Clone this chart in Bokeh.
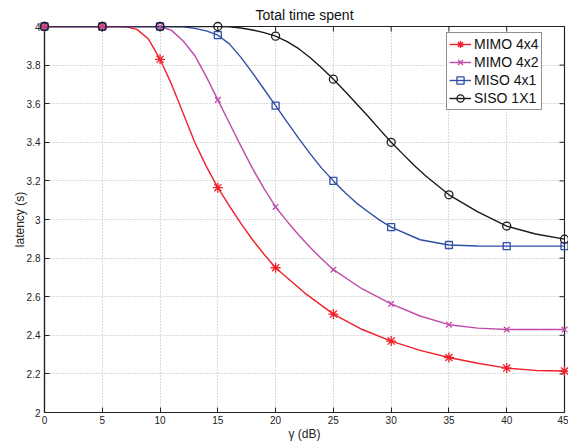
from bokeh.plotting import figure
from bokeh.models import FixedTicker, Range1d, Legend, LegendItem
from bokeh.embed import file_html
from bokeh.resources import INLINE

# ---- data ----
xticks = [0, 5, 10, 15, 20, 25, 30, 35, 40, 45]
yticks = [2.0, 2.2, 2.4, 2.6, 2.8, 3.0, 3.2, 3.4, 3.6, 3.8, 4.0]
ytick_labels = ["2", "2.2", "2.4", "2.6", "2.8", "3", "3.2", "3.4", "3.6", "3.8", "4"]
marker_x = [0, 5, 10, 15, 20, 25, 30, 35, 40, 45]

labels = ["MIMO 4x4", "MIMO 4x2", "MISO 4x1", "SISO 1X1"]

red_x = [0, 5, 6, 7, 8, 9, 10, 11, 12, 13, 14, 15, 16, 17, 18, 19, 20, 22.5, 25, 27.5, 30, 32.5, 35, 37.5, 40, 42.5, 45]
red_y = [4.0, 4.0, 4.0, 3.999, 3.985, 3.935, 3.83, 3.70, 3.55, 3.40, 3.275, 3.165, 3.07, 2.98, 2.895, 2.82, 2.75, 2.62, 2.51, 2.43, 2.37, 2.322, 2.285, 2.255, 2.23, 2.218, 2.215]

mag_x = [0, 5, 10, 11, 12, 13, 14, 15, 16, 17, 18, 19, 20, 21, 22, 23, 24, 25, 27.5, 30, 32.5, 35, 37.5, 40, 42.5, 45]
mag_y = [4.0, 4.0, 4.0, 3.98, 3.925, 3.85, 3.74, 3.62, 3.50, 3.38, 3.265, 3.16, 3.065, 2.99, 2.92, 2.855, 2.795, 2.74, 2.64, 2.563, 2.50, 2.455, 2.437, 2.43, 2.43, 2.43]

blue_x = [0, 5, 10, 12, 13, 14, 15, 16, 17, 18, 19, 20, 21, 22, 23, 24, 25, 26, 27, 28, 29, 30, 32.5, 35, 37.5, 40, 42.5, 45]
blue_y = [4.0, 4.0, 4.0, 3.998, 3.99, 3.977, 3.955, 3.91, 3.84, 3.76, 3.675, 3.59, 3.505, 3.42, 3.34, 3.265, 3.20, 3.14, 3.085, 3.04, 2.997, 2.96, 2.895, 2.868, 2.863, 2.862, 2.862, 2.862]

black_x = [0, 5, 10, 15, 16, 17, 18, 19, 20, 21, 22, 23, 24, 25, 26, 27, 28, 29, 30, 31, 32, 33, 35, 37.5, 40, 42.5, 45]
black_y = [4.0, 4.0, 4.0, 4.0, 3.998, 3.992, 3.982, 3.968, 3.95, 3.922, 3.885, 3.838, 3.785, 3.727, 3.665, 3.60, 3.535, 3.467, 3.40, 3.34, 3.28, 3.225, 3.128, 3.04, 2.966, 2.925, 2.898]

colors = ["#f0202a", "#c04aaa", "#2f4ea6", "#1a1a1a"]
markers = ["asterisk", "x", "square", "circle"]
msizes = [10, 8, 7, 8]

series = [(red_x, red_y), (mag_x, mag_y), (blue_x, blue_y), (black_x, black_y)]

FONT = "Liberation Sans"
AXC = "#222222"

p = figure(width=568, height=444, x_range=Range1d(0, 45), y_range=Range1d(2, 4),
           output_backend="svg", toolbar_location=None,
           min_border_left=44, min_border_right=4, min_border_top=26, min_border_bottom=32,
           title="Total time spent")
p.background_fill_color = "white"
p.border_fill_color = "white"
p.outline_line_color = AXC
p.outline_line_width = 1.2

p.title.text_font = FONT
p.title.text_font_size = "14px"
p.title.text_font_style = "normal"
p.title.align = "center"
p.title.standoff = 8
p.title.text_color = "#111111"

ov = dict(zip(yticks, ytick_labels))

for ax in p.xaxis:
    ax.ticker = FixedTicker(ticks=xticks)
for ax in p.yaxis:
    ax.ticker = FixedTicker(ticks=yticks)
    ax.major_label_overrides = ov

for ax in list(p.xaxis) + list(p.yaxis):
    ax.major_tick_in = 5
    ax.major_tick_out = 0
    ax.minor_tick_line_color = None
    ax.axis_line_color = AXC
    ax.axis_line_width = 1.2
    ax.major_tick_line_color = AXC
    ax.major_label_text_font = FONT
    ax.major_label_text_font_size = "10px"
    ax.major_label_text_color = AXC
    ax.axis_label_text_font = FONT
    ax.axis_label_text_font_size = "12px"
    ax.axis_label_text_font_style = "normal"
    ax.axis_label_text_color = AXC

p.xaxis.major_label_standoff = 3
p.yaxis.major_label_standoff = 4
p.xaxis.axis_label = "\u03b3 (dB)"
p.yaxis.axis_label = "latency (s)"
p.xaxis.axis_label_standoff = 0
p.yaxis.axis_label_standoff = -3

p.xgrid.ticker = FixedTicker(ticks=xticks)
p.ygrid.ticker = FixedTicker(ticks=yticks)
for g in (p.xgrid, p.ygrid):
    g.grid_line_color = "#b4b4b4"
    g.grid_line_dash = "1 2"
    g.grid_line_width = 1

# inward ticks on the top and right edges (half of each dash is clipped by the frame)
p.scatter(xticks, [4.0] * len(xticks), marker="dash", angle=1.5708, size=10,
          line_color=AXC, line_width=1)
p.scatter([45] * len(yticks), yticks, marker="dash", size=10, line_color=AXC, line_width=1)

items = []
for (xs, ys), c, m, s, lab in zip(series, colors, markers, msizes, labels):
    lr = p.line(xs, ys, line_color=c, line_width=1.4)
    lookup = dict(zip(xs, ys))
    mx = [x for x in marker_x if x in lookup]
    my = [lookup[x] for x in mx]
    sr = p.scatter(mx, my, marker=m, size=s, line_color=c, fill_color=None, line_width=1.3,
                   level="overlay")
    items.append(LegendItem(label=lab, renderers=[lr, sr]))

legend = Legend(items=items, location=(402, 302))
legend.border_line_color = AXC
legend.border_line_width = 1
legend.background_fill_color = "white"
legend.background_fill_alpha = 1
legend.label_text_font = FONT
legend.label_text_font_size = "14px"
legend.label_text_color = "#111111"
legend.padding = 2
legend.spacing = 0
legend.margin = 0
legend.glyph_width = 22
legend.glyph_height = 18
legend.label_height = 18
legend.label_standoff = 3
p.add_layout(legend)

open("out.html", "w").write(file_html(p, INLINE))
